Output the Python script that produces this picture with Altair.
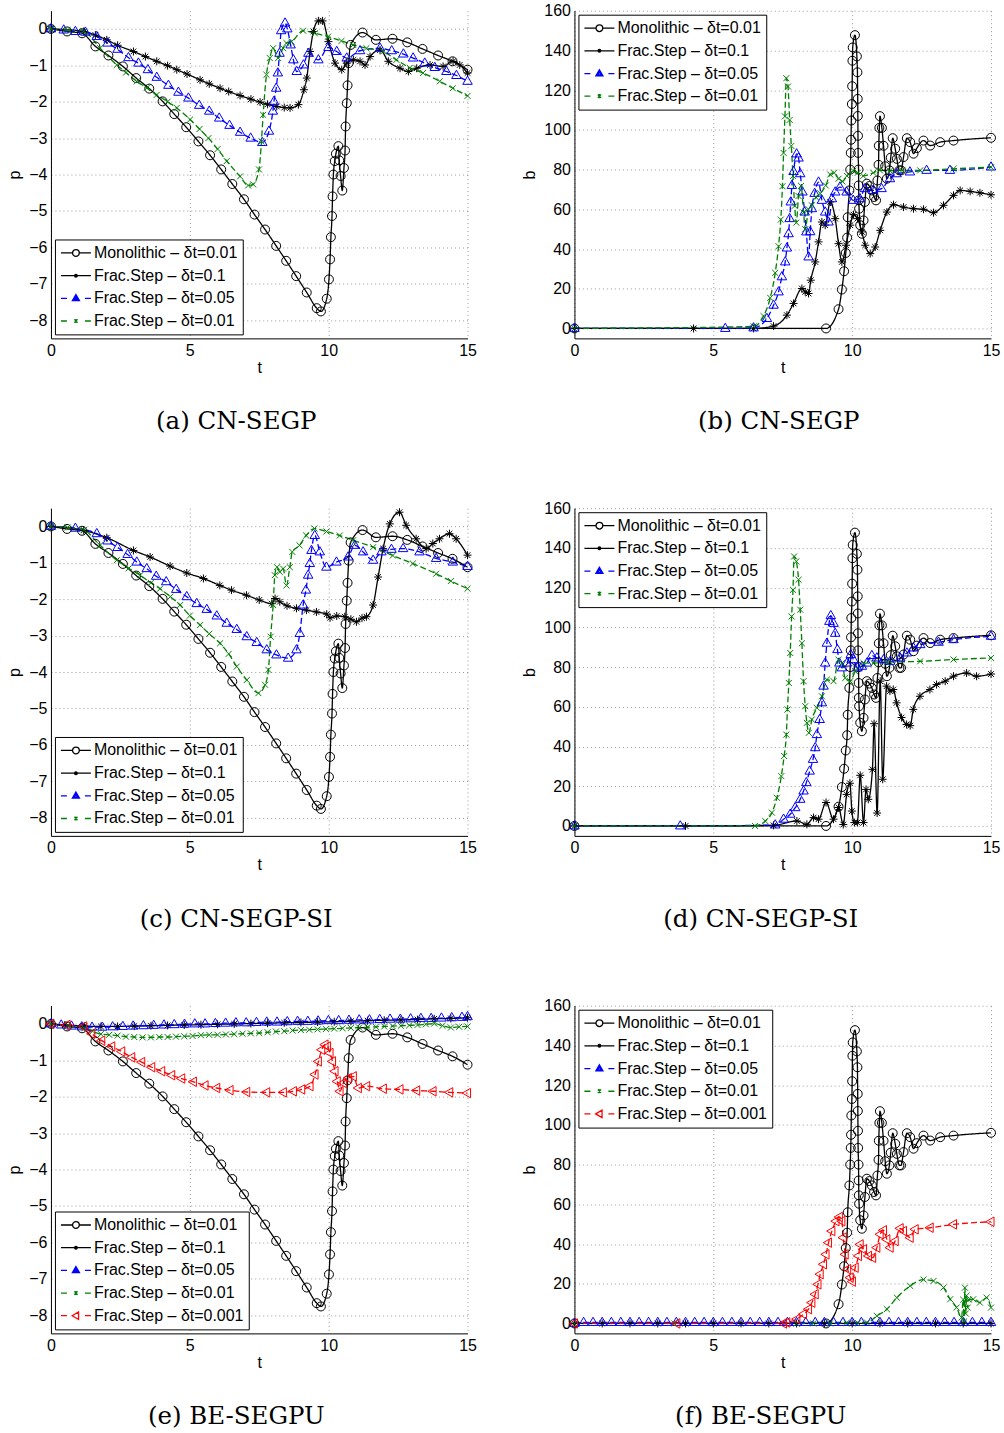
import altair as alt
import pandas as pd

NAMES = ["Monolithic – δt=0.01", "Frac.Step – δt=0.1", "Frac.Step – δt=0.05",
         "Frac.Step – δt=0.01", "Frac.Step – δt=0.001"]
COLORS = ["#000000", "#000000", "#0000ff", "#008000", "#ff0000"]
DASHES = [[1, 0], [1, 0], [6, 3], [6, 3], [6, 3]]
MARKS = [
    "M0.9,0A0.9,0.9,0,1,1,-0.9,0A0.9,0.9,0,1,1,0.9,0Z",
    "M-0.8,0L0.8,0M0,-0.8L0,0.8M-0.57,-0.57L0.57,0.57M-0.57,0.57L0.57,-0.57",
    "M0,-1.05L0.95,0.6L-0.95,0.6Z",
    "M-0.6,-0.6L0.6,0.6M-0.6,0.6L0.6,-0.6",
    "M-1.05,0L0.6,-0.95L0.6,0.95Z",
]
LEGSYM = [
    "M-1,0L0.55,0M1.45,0L3,0M1.45,0A0.45,0.45,0,1,1,0.55,0A0.45,0.45,0,1,1,1.45,0Z",
    "M-1,0L3,0M1.18,0A0.18,0.18,0,1,1,0.82,0A0.18,0.18,0,1,1,1.18,0Z",
    "M-1,0L-0.2,0M2.2,0L3,0M1,-0.5L1.47,0.3L0.53,0.3ZM1,-0.2L1.22,0.18L0.78,0.18Z",
    "M-1,0L-0.2,0M2.2,0L3,0M0.78,-0.22L1.22,0.22M0.78,0.22L1.22,-0.22M1,-0.28L1,0.28",
    "M-1,0L-0.2,0M2.2,0L3,0M0.5,0L1.35,-0.5L1.35,0.5Z",
]

# ---------- Monolithic (same in all panels) ----------
MONO_P_T = [0, 0.58, 1.12, 1.6, 2.07, 2.59, 3.07, 3.54, 4.02, 4.44, 4.87, 5.31, 5.73, 6.13, 6.53,
            6.95, 7.33, 7.71, 8.11, 8.47, 8.83, 9.21, 9.57, 9.72, 9.93, 10.01, 10.05, 10.08, 10.12,
            10.14, 10.17, 10.22, 10.26, 10.35, 10.38, 10.43, 10.49, 10.55, 10.59, 10.61, 10.65,
            10.68, 10.72, 10.79, 11.22, 11.70, 12.30, 12.83, 13.38, 13.94, 14.46, 15.0]
MONO_P_V = [0, -0.07, -0.12, -0.48, -0.73, -1.03, -1.35, -1.64, -1.99, -2.34, -2.70, -3.09, -3.47,
            -3.86, -4.26, -4.68, -5.10, -5.51, -5.96, -6.37, -6.79, -7.24, -7.67, -7.76, -7.41,
            -6.88, -6.33, -5.72, -5.14, -4.60, -4.0, -3.63, -3.43, -3.22, -3.61, -4.04, -4.44,
            -3.82, -3.34, -2.68, -2.04, -1.55, -0.94, -0.44, -0.10, -0.30, -0.27, -0.37, -0.55,
            -0.73, -0.89, -1.12]
MONO_B_T = [0, 9.06, 9.51, 9.63, 9.71, 9.77, 9.82, 9.84, 9.90, 9.93, 9.95, 9.96, 9.97, 9.99, 10.0,
            10.01, 10.02, 10.10, 10.17, 10.19, 10.20, 10.205, 10.21, 10.215, 10.23, 10.235, 10.24,
            10.25, 10.29, 10.35, 10.41, 10.46, 10.53, 10.62, 10.71, 10.79, 10.86, 10.91, 10.95,
            10.96, 10.98, 11.00, 11.07, 11.13, 11.19, 11.25, 11.34, 11.39, 11.46, 11.55, 11.61,
            11.70, 11.76, 11.85, 11.97, 12.09, 12.21, 12.33, 12.57, 12.81, 13.17, 13.65, 15.0]
MONO_B_V = [0, 0, 9.7, 19.6, 28.8, 38, 45.7, 56, 69.5, 80, 88.4, 95, 104.7, 113, 122, 134.8,
            141.5, 147.7, 137, 129, 115.6, 107, 97, 88.4, 80, 72, 64.5, 60.3, 52, 47.7, 54.4, 63.7,
            72.9, 71.7, 69.5, 66.2, 64.5, 74.5, 82.4, 92, 101, 106.9, 101, 92, 81.7, 75.4, 79.6,
            86, 95.8, 90.5, 85.4, 79.6, 79.6, 86.3, 95.8, 93.8, 88, 90.8, 94.6, 92.1, 93.8, 94.6, 96]

# ---------- (a) CN-SEGP, p ----------
A_FS1_T = [0, 1.18, 1.6, 2.01, 2.4, 2.97, 3.4, 3.81, 4.2, 4.53, 4.9, 5.37, 5.7, 6.09, 6.4, 6.81,
           7.2, 7.53, 7.8, 8.13, 8.4, 8.61, 8.91, 9.11, 9.21, 9.33, 9.45, 9.63, 9.78, 9.99, 10.23,
           10.47, 10.65, 10.89, 11.13, 11.31, 11.49, 11.85, 12.15, 12.57, 12.87, 13.17, 13.65,
           14.12, 14.48, 14.72, 15.0]
A_FS1_V = [0, -0.07, -0.17, -0.30, -0.45, -0.62, -0.76, -0.89, -1.01, -1.12, -1.24, -1.40, -1.51,
           -1.63, -1.72, -1.83, -1.93, -2.01, -2.07, -2.13, -2.16, -2.17, -2.08, -1.67, -1.35,
           -0.62, -0.07, 0.22, 0.22, -0.35, -0.94, -1.12, -0.94, -0.85, -0.89, -0.99, -0.76,
           -0.58, -0.89, -1.08, -1.17, -1.08, -0.99, -1.03, -0.89, -0.99, -1.21]
A_FS05_T = [0, 0.46, 0.88, 1.24, 1.65, 2.04, 2.4, 2.79, 3.15, 3.49, 3.81, 4.23, 4.59, 4.95, 5.34,
            5.70, 6.06, 6.43, 6.81, 7.19, 7.61, 7.85, 7.99, 8.03, 8.11, 8.17, 8.23, 8.29, 8.43,
            8.51, 8.63, 8.73, 8.85, 9.09, 9.27, 9.63, 9.99, 10.29, 10.65, 11.13, 11.85, 12.27,
            12.69, 13.04, 13.46, 13.82, 14.24, 14.60, 15.0]
A_FS05_V = [0, -0.03, -0.07, -0.09, -0.21, -0.39, -0.56, -0.79, -0.94, -1.12, -1.33, -1.55, -1.74,
            -1.90, -2.10, -2.26, -2.45, -2.65, -2.84, -3.0, -3.12, -2.81, -2.26, -1.99, -1.63,
            -1.21, -0.67, -0.05, 0.16, 0.0, -0.44, -0.85, -1.17, -0.99, -0.67, -0.85, -0.51,
            -0.62, -0.80, -0.60, -0.53, -0.60, -0.69, -0.80, -0.94, -1.06, -1.17, -1.28, -1.44]
A_FS01_T = [0, 0.6, 1.18, 1.77, 2.37, 2.7, 3.09, 3.45, 3.81, 4.2, 4.53, 5.01, 5.35, 5.67, 6.0,
            6.33, 6.81, 7.1, 7.28, 7.49, 7.58, 7.64, 7.76, 7.88, 8.0, 8.18, 8.36, 8.48, 8.66, 9.08,
            9.5, 9.98, 10.46, 10.88, 11.36, 11.96, 12.44, 12.92, 13.4, 14.0, 14.47, 15.0]
A_FS01_V = [0, -0.03, -0.07, -0.53, -0.99, -1.2, -1.44, -1.62, -1.81, -2.0, -2.17, -2.49, -2.75,
            -3.0, -3.3, -3.63, -4.05, -4.3, -4.27, -3.86, -3.09, -2.36, -1.26, -0.8, -0.53, -0.8,
            -0.53, -0.39, -0.35, -0.05, -0.12, -0.21, -0.33, -0.44, -0.53, -0.62, -0.85, -1.07,
            -1.21, -1.44, -1.63, -1.84]

# ---------- (b) CN-SEGP, b ----------
B_FS1_T = [0, 4.29, 6.45, 7.17, 7.65, 7.89, 8.19, 8.31, 8.43, 8.51, 8.67, 8.79, 8.91, 9.03, 9.21,
           9.39, 9.51, 9.63, 9.78, 9.93, 10.05, 10.19, 10.35, 10.47, 10.65, 10.83, 11.01, 11.25,
           11.49, 11.85, 12.21, 12.57, 12.93, 13.29, 13.65, 13.89, 14.25, 14.60, 15.0]
B_FS1_V = [0, 0, 0, 1.2, 6.7, 12.6, 20.1, 18.4, 17.6, 24.3, 33.5, 43.6, 53.6, 52, 63.7, 55.3, 42.7,
           33.5, 41.9, 52, 57.3, 55.3, 48.6, 41.9, 37.7, 41, 49.4, 58.6, 62.3, 61.1, 60.3, 60,
           58.3, 62, 67, 69.5, 69, 68.3, 67.3]
B_FS05_T = [0, 5.43, 6.45, 6.93, 7.17, 7.35, 7.47, 7.59, 7.65, 7.71, 7.75, 7.79, 7.83, 7.89, 8.0,
            8.07, 8.13, 8.21, 8.29, 8.35, 8.43, 8.49, 8.55, 8.65, 8.79, 8.91, 9.03, 9.15, 9.27,
            9.39, 9.56, 9.8, 10.04, 10.28, 10.46, 10.76, 11.06, 11.36, 11.60, 12.08, 12.68,
            13.52, 15.0]
B_FS05_V = [0, 0, 0.3, 5, 11.7, 18.4, 26, 33.5, 40.5, 47.7, 55.3, 63.7, 72, 79, 87.9, 85.8, 77.9,
            68.7, 58.6, 48.6, 36, 48.7, 60.3, 68, 73.7, 64.5, 58.6, 53.6, 65.3, 68.7, 71.2, 68.7,
            64.5, 65.3, 70.4, 69.5, 70.4, 75.4, 77.9, 78.8, 79.6, 79.6, 81.3]
B_FS01_T = [0, 6.45, 6.81, 7.05, 7.23, 7.35, 7.43, 7.49, 7.53, 7.58, 7.63, 7.69, 7.75, 7.81, 7.87,
            7.93, 7.99, 8.07, 8.16, 8.25, 8.31, 8.43, 8.55, 8.7, 8.85, 9.05, 9.21, 9.35, 9.51, 9.65,
            9.81, 10.04, 10.2, 10.4, 10.76, 11.0, 11.36, 11.8, 12.45, 13.65, 15.0]
B_FS01_V = [0, 1, 6.2, 15.4, 28, 41.4, 54.8, 71.6, 88.4, 106.8, 126, 121.8, 105, 91.9, 76.8, 61.7,
            53.3, 66.7, 71.8, 58.4, 50, 60, 62, 66, 68, 72, 77.5, 78.4, 75.4, 74, 76.8, 79.4, 78.4,
            76.8, 78.4, 79.6, 79.4, 79.6, 79.6, 80.4, 81.2]

# ---------- (c) CN-SEGP-SI, p ----------
C_FS1_T = [0, 1.18, 2.01, 2.97, 3.57, 4.29, 4.89, 5.49, 6.08, 6.5, 7.04, 7.5, 7.95, 8.07, 8.24,
           8.5, 8.84, 9.2, 9.56, 9.93, 10.05, 10.29, 10.58, 10.8, 11.0, 11.2, 11.36, 11.6, 11.78,
           11.96, 12.2, 12.55, 12.79, 13.15, 13.51, 13.75, 13.99, 14.35, 14.59, 15.0]
C_FS1_V = [0, -0.11, -0.31, -0.66, -0.84, -1.09, -1.28, -1.43, -1.62, -1.75, -1.89, -2.02, -2.12,
           -1.98, -2.07, -2.18, -2.25, -2.30, -2.35, -2.41, -2.51, -2.46, -2.48, -2.55, -2.62,
           -2.52, -2.48, -2.16, -1.39, -0.61, 0.07, 0.39, 0.03, -0.34, -0.61, -0.47, -0.34,
           -0.20, -0.34, -0.79]
C_FS05_T = [0, 0.88, 1.65, 2.04, 2.4, 2.76, 3.09, 3.45, 3.79, 4.15, 4.51, 4.89, 5.25, 5.61, 5.97,
            6.33, 6.69, 7.05, 7.41, 7.77, 8.12, 8.54, 8.84, 8.96, 9.08, 9.18, 9.26, 9.32, 9.38,
            9.5, 9.68, 9.92, 10.28, 10.7, 10.94, 11.24, 11.6, 11.9, 12.26, 12.68, 13.27, 13.87,
            14.47, 15.0]
C_FS05_V = [0, -0.05, -0.2, -0.4, -0.58, -0.77, -0.98, -1.16, -1.37, -1.52, -1.73, -1.93, -2.12,
            -2.28, -2.46, -2.66, -2.83, -3.03, -3.19, -3.39, -3.53, -3.62, -3.39, -2.94, -2.16,
            -1.75, -1.34, -1.02, -0.66, -0.25, -0.70, -1.12, -0.98, -0.84, -0.52, -0.70, -0.93,
            -0.70, -0.63, -0.61, -0.70, -0.88, -0.98, -1.1]
C_FS01_T = [0, 0.6, 1.18, 1.77, 2.37, 2.8, 3.21, 3.6, 3.93, 4.3, 4.65, 5.0, 5.37, 5.7, 6.09, 6.4,
            6.69, 7.05, 7.47, 7.71, 7.83, 7.91, 8.0, 8.06, 8.14, 8.24, 8.36, 8.48, 8.6, 8.69, 8.95,
            9.19, 9.49, 9.92, 10.4, 10.88, 11.6, 12.31, 13.03, 13.87, 14.4, 15.0]
C_FS01_V = [0, -0.03, -0.1, -0.52, -0.93, -1.15, -1.34, -1.55, -1.71, -1.93, -2.16, -2.45, -2.71,
            -2.95, -3.21, -3.5, -3.85, -4.22, -4.58, -4.35, -3.94, -3.03, -2.16, -1.34, -1.12,
            -1.25, -1.16, -1.62, -1.12, -0.70, -0.52, -0.25, -0.06, -0.14, -0.25, -0.38, -0.57,
            -0.80, -1.02, -1.30, -1.5, -1.71]

# ---------- (d) CN-SEGP-SI, b ----------
D_FS1_T = [0, 4.0, 7.17, 8.01, 8.37, 8.61, 8.79, 9.06, 9.33, 9.51, 9.68, 9.8, 9.92, 9.99, 10.08,
           10.19, 10.29, 10.41, 10.5, 10.58, 10.73, 10.79, 10.9, 11.01, 11.1, 11.24, 11.36, 11.48,
           11.6, 11.78, 11.96, 12.09, 12.2, 12.44, 12.8, 13.04, 13.35, 13.65, 14.12, 14.48, 15.0]
D_FS1_V = [0, 0, 0.3, 2.5, 0.8, 4.2, 3.4, 11.8, 3.4, 9.3, 0.7, 15.9, 21.5, 7.5, 1.7, 1.7, 25.5, 1.7,
           18.4, 13.4, 28.5, 51.5, 6.5, 72.9, 23.5, 70.4, 67.9, 68.7, 62, 54.6, 51.1, 50.5, 58.7,
           65.3, 68.7, 71.2, 72.9, 75.4, 77, 75.4, 76.5]
D_FS05_T = [0, 3.81, 7.23, 7.53, 7.77, 7.95, 8.13, 8.25, 8.35, 8.47, 8.59, 8.67, 8.73, 8.83, 8.91,
            8.97, 9.03, 9.09, 9.18, 9.23, 9.33, 9.39, 9.47, 9.54, 9.63, 9.81, 9.95, 10.05, 10.19,
            10.35, 10.53, 10.71, 10.89, 11.13, 11.37, 11.73, 11.97, 12.21, 12.45, 13.11, 13.65, 15.0]
D_FS05_V = [0, 0, 0.5, 3.4, 5.9, 9.2, 13.4, 17.6, 21.8, 27.6, 33.5, 39.4, 46, 53.6, 62, 70.4, 82,
            92, 103, 105.9, 102, 97, 88.8, 82, 79.6, 82, 86.3, 83.7, 79.6, 80.4, 82, 85.8, 84.6,
            83.7, 82.9, 84.6, 87.1, 89.6, 91.3, 92.5, 93.8, 95.5]
D_FS01_T = [0, 6.5, 6.87, 7.11, 7.29, 7.45, 7.55, 7.63, 7.67, 7.72, 7.77, 7.82, 7.87, 7.91, 7.99,
            8.07, 8.13, 8.19, 8.25, 8.31, 8.37, 8.44, 8.55, 8.73, 8.91, 9.09, 9.33, 9.51, 9.63,
            9.75, 9.93, 10.11, 10.41, 10.77, 11.25, 12.45, 13.65, 15.0]
D_FS01_V = [0, 0, 2.5, 6.7, 14.2, 25.1, 35.2, 46, 58.6, 72, 87.1, 105.5, 118.9, 135.7, 133.2, 124,
            108.9, 92, 72.9, 60.3, 51.9, 46.9, 53.6, 59.5, 65.3, 73.7, 72.9, 83.7, 82, 74.5, 72.9,
            77.9, 82, 82, 82.4, 82.9, 83.8, 84.6]

# ---------- (e) BE-SEGPU, p ----------
E_FS1_T = [0, 0.5, 1.2, 1.8, 2.4, 3.0, 3.6, 4.2, 4.8, 5.4, 6.0, 6.6, 7.2, 7.8, 8.4, 9.0, 9.6, 10.2,
           10.8, 11.4, 12.0, 12.6, 13.2, 13.8, 14.4, 15.0]
E_FS1_V = [0, -0.03, -0.06, -0.07, -0.07, -0.06, -0.05, -0.04, -0.03, -0.02, -0.01, 0.0, 0.01,
           0.02, 0.03, 0.04, 0.05, 0.06, 0.07, 0.09, 0.10, 0.11, 0.12, 0.14, 0.15, 0.17]
E_FS05_T = [0, 0.37, 0.74, 1.11, 1.48, 1.85, 2.22, 2.59, 2.96, 3.33, 3.7, 4.07, 4.44, 4.81, 5.18,
            5.55, 5.92, 6.29, 6.66, 7.03, 7.4, 7.77, 8.14, 8.51, 8.88, 9.25, 9.62, 9.99, 10.36,
            10.73, 11.1, 11.47, 11.84, 12.21, 12.58, 12.95, 13.32, 13.69, 14.06, 14.43, 14.8, 15.0]
E_FS05_V = [0, -0.03, -0.06, -0.08, -0.09, -0.09, -0.08, -0.07, -0.06, -0.05, -0.04, -0.03, -0.02,
            -0.01, 0.0, 0.0, 0.01, 0.02, 0.03, 0.03, 0.04, 0.05, 0.05, 0.06, 0.07, 0.07, 0.08,
            0.09, 0.09, 0.10, 0.11, 0.11, 0.12, 0.13, 0.13, 0.14, 0.15, 0.15, 0.16, 0.17, 0.18, 0.2]
E_FS01_T = [0, 0.6, 1.2, 1.5, 1.8, 2.1, 2.4, 2.7, 3.0, 3.3, 3.6, 3.9, 4.2, 4.5, 4.8, 5.1, 5.4, 5.7,
            6.0, 6.3, 6.6, 6.9, 7.2, 7.5, 7.8, 8.1, 8.4, 8.7, 9.0, 9.3, 9.6, 9.9, 10.2, 10.5, 10.8,
            11.1, 11.4, 11.7, 12.0, 12.3, 12.6, 12.9, 13.2, 13.5, 13.8, 14.1, 14.4, 14.7, 15.0]
E_FS01_V = [0, -0.05, -0.12, -0.2, -0.28, -0.3, -0.32, -0.35, -0.36, -0.37, -0.37, -0.36, -0.36,
            -0.35, -0.34, -0.33, -0.31, -0.30, -0.30, -0.29, -0.28, -0.27, -0.26, -0.25, -0.23,
            -0.21, -0.20, -0.18, -0.17, -0.16, -0.15, -0.14, -0.13, -0.12, -0.11, -0.10, -0.09,
            -0.08, -0.07, -0.06, -0.05, -0.04, -0.03, -0.01, 0.01, -0.05, -0.10, -0.08, -0.07]
E_FS001_T = [0, 0.58, 1.18, 1.47, 1.83, 2.19, 2.55, 2.91, 3.27, 3.63, 3.99, 4.35, 4.71, 5.13, 5.55,
             5.97, 6.45, 7.05, 7.77, 8.37, 8.73, 9.03, 9.33, 9.51, 9.63, 9.75, 9.87, 9.96, 10.05,
             10.14, 10.23, 10.31, 10.41, 10.53, 10.71, 10.89, 11.07, 11.37, 11.97, 12.57, 13.17,
             13.76, 14.36, 15.0]
E_FS001_V = [0, -0.03, -0.07, -0.27, -0.46, -0.62, -0.76, -0.92, -1.05, -1.19, -1.30, -1.41, -1.50,
             -1.59, -1.69, -1.76, -1.82, -1.87, -1.88, -1.88, -1.85, -1.80, -1.71, -1.39, -1.03,
             -0.71, -0.57, -0.62, -0.80, -1.03, -1.30, -1.58, -1.85, -1.62, -1.49, -1.44, -1.76,
             -1.71, -1.78, -1.80, -1.83, -1.85, -1.88, -1.90]

# ---------- (f) BE-SEGPU, b ----------
F_FS1_T = [0, 1.0, 2.0, 3.0, 4.0, 5.0, 6.0, 7.0, 8.0, 9.0, 10.0, 11.0, 12.0, 13.0, 14.0, 15.0]
F_FS1_V = [0, 0, 0, 0, 0, 0, 0, 0, 0, 0, 0, 0, 0, 0, 0, 0]
F_FS05_T = [0, 0.33, 0.67, 1.0, 1.33, 1.67, 2.0, 2.33, 2.67, 3.0, 3.33, 3.67, 4.0, 4.33, 4.67, 5.0,
            5.33, 5.67, 6.0, 6.33, 6.67, 7.0, 7.33, 7.67, 8.0, 8.33, 8.67, 9.0, 9.33, 9.67, 10.0,
            10.33, 10.67, 11.0, 11.33, 11.67, 12.0, 12.33, 12.67, 13.0, 13.33, 13.67, 14.0, 14.33,
            14.67, 15.0]
F_FS05_V = [0, 0.5, 0.5, 0.5, 0.5, 0.5, 0.5, 0.5, 0.5, 0.5, 0.5, 0.5, 0.5, 0.5, 0.5, 0.5, 0.5, 0.5,
            0.5, 0.5, 0.5, 0.5, 0.5, 0.5, 0.5, 0.5, 0.5, 0.5, 0.5, 0.5, 0.5, 0.5, 0.5, 0.5, 0.5,
            0.5, 0.5, 0.5, 0.5, 0.5, 0.5, 0.5, 0.5, 0.5, 0.5, 0.5]
F_FS01_T = [0, 3.6, 8.0, 8.6, 9.2, 9.8, 10.2, 10.53, 10.89, 11.25, 11.61, 12.09, 12.57, 12.93, 13.29,
            13.53, 13.76, 13.94, 14.0, 14.03, 14.06, 14.09, 14.12, 14.16, 14.2, 14.36, 14.6, 14.84,
            15.0]
F_FS01_V = [0, 0, 0, 0, 0, 0.3, 0.3, 0.5, 3.8, 7.2, 13, 18.9, 22.1, 21.4, 18.1, 12.2, 8, 3, 12, 1,
            18, 5, 14, 8, 12, 12.2, 10.5, 13, 8]
F_FS001_T = [0, 3.69, 7.53, 7.65, 8.01, 8.25, 8.43, 8.55, 8.67, 8.77, 8.85, 8.97, 9.06, 9.15, 9.27,
             9.42, 9.54, 9.63, 9.68, 9.75, 9.84, 9.93, 10.01, 10.11, 10.23, 10.29, 10.41, 10.59,
             10.74, 10.89, 11.01, 11.13, 11.25, 11.37, 11.55, 11.73, 11.85, 12.09, 12.27, 12.81,
             13.65, 15.0]
F_FS001_V = [0, 0, 0, 0.5, 2.2, 4.7, 7.2, 10.5, 14.7, 19.7, 24.8, 29.8, 34.8, 40.7, 46.5, 51.5,
             53.6, 51.5, 43.2, 34.8, 27.3, 23.1, 21.1, 28.1, 34, 39.8, 37.3, 34, 33.1, 38.2, 44.9,
             46.9, 42.3, 38.2, 41.5, 47.9, 46.5, 43.2, 47.4, 48.2, 49.9, 51.2]

P_TICKS = [-8, -7, -6, -5, -4, -3, -2, -1, 0]
B_TICKS = [0, 20, 40, 60, 80, 100, 120, 140, 160]
T_TICKS = [0, 5, 10, 15]

W, H = 417, 328


def panel(series, ytitle, ydom, yticks, orient, caption, dx):
    n = len(series)
    rows = []
    for i, (ts, vs) in enumerate(series):
        for k, (a, b) in enumerate(zip(ts, vs)):
            rows.append({"t": a, "v": b, "s": NAMES[i], "k": k})
    df = pd.DataFrame(rows)
    dom = NAMES[:n]
    xenc = alt.X("t:Q", scale=alt.Scale(domain=[0, 15], nice=False),
                 axis=alt.Axis(values=T_TICKS, title="t", format="d"))
    yenc = alt.Y("v:Q", scale=alt.Scale(domain=ydom, nice=False, zero=False),
                 axis=alt.Axis(values=yticks, title=ytitle, format="d"))
    base = alt.Chart(df)
    lines = base.mark_line(strokeWidth=1.3, interpolate="monotone").encode(
        x=xenc, y=yenc,
        color=alt.Color("s:N", scale=alt.Scale(domain=dom, range=COLORS[:n]), legend=None),
        strokeDash=alt.StrokeDash("s:N", scale=alt.Scale(domain=dom, range=DASHES[:n]), legend=None),
        order="k:Q",
    )
    pts = base.mark_point(filled=False, size=100, strokeWidth=1, opacity=1).encode(
        x=xenc, y=yenc,
        color=alt.Color("s:N", scale=alt.Scale(domain=dom, range=COLORS[:n]), legend=None),
        shape=alt.Shape("s:N", scale=alt.Scale(domain=dom, range=MARKS[:n]), legend=None),
    )
    lg = dict(title=None, orient=orient, offset=4, padding=5, strokeColor="black",
              fillColor="white", labelFont="Liberation Sans", labelFontSize=16,
              labelColor="black", labelOffset=17, labelLimit=400, rowPadding=5.7,
              symbolSize=225, symbolStrokeWidth=1.3, symbolOpacity=1, cornerRadius=0)
    leg = base.transform_filter("datum.t < -100").mark_point(
        filled=False, size=225, strokeWidth=1.3, opacity=1).encode(
        color=alt.Color("s:N", scale=alt.Scale(domain=dom, range=COLORS[:n]),
                        legend=alt.Legend(**lg)),
        shape=alt.Shape("s:N", scale=alt.Scale(domain=dom, range=LEGSYM[:n]),
                        legend=alt.Legend(**lg)),
    )
    return alt.layer(lines, pts, leg).resolve_scale(
        color="independent", shape="independent", strokeDash="independent"
    ).properties(
        width=W, height=H,
        title=alt.TitleParams(text=caption, orient="bottom", anchor="middle", frame="group",
                              font="DejaVu Serif", fontSize=24.5, fontWeight="normal",
                              color="black", offset=35, dx=dx),
    )


pa = panel([(MONO_P_T, MONO_P_V), (A_FS1_T, A_FS1_V), (A_FS05_T, A_FS05_V), (A_FS01_T, A_FS01_V)],
           "p", [-8.5, 0.5], P_TICKS, "bottom-left", "(a)  CN-SEGP", -23)
pb = panel([(MONO_B_T, MONO_B_V), (B_FS1_T, B_FS1_V), (B_FS05_T, B_FS05_V), (B_FS01_T, B_FS01_V)],
           "b", [-5, 160], B_TICKS, "top-left", "(b)  CN-SEGP", -4)
pc = panel([(MONO_P_T, MONO_P_V), (C_FS1_T, C_FS1_V), (C_FS05_T, C_FS05_V), (C_FS01_T, C_FS01_V)],
           "p", [-8.5, 0.5], P_TICKS, "bottom-left", "(c)  CN-SEGP-SI", -23)
pd_ = panel([(MONO_B_T, MONO_B_V), (D_FS1_T, D_FS1_V), (D_FS05_T, D_FS05_V), (D_FS01_T, D_FS01_V)],
            "b", [-5, 160], B_TICKS, "top-left", "(d)  CN-SEGP-SI", -22)
pe = panel([(MONO_P_T, MONO_P_V), (E_FS1_T, E_FS1_V), (E_FS05_T, E_FS05_V), (E_FS01_T, E_FS01_V),
            (E_FS001_T, E_FS001_V)],
           "p", [-8.5, 0.5], P_TICKS, "bottom-left", "(e)  BE-SEGPU", -23)
pf = panel([(MONO_B_T, MONO_B_V), (F_FS1_T, F_FS1_V), (F_FS05_T, F_FS05_V), (F_FS01_T, F_FS01_V),
            (F_FS001_T, F_FS001_V)],
           "b", [-5, 160], B_TICKS, "top-left", "(f)  BE-SEGPU", -22)

HS = 45
chart = alt.vconcat(
    alt.hconcat(pa, pb, spacing=HS),
    alt.hconcat(pc, pd_, spacing=HS),
    alt.hconcat(pe, pf, spacing=HS),
    spacing=66,
).properties(
    padding={"left": 6, "top": 2, "right": 4, "bottom": 4}
).configure_view(stroke=None).configure_axis(
    domainColor="black", domainWidth=1, grid=True, gridColor="#9a9a9a", gridDash=[1, 3],
    gridWidth=1, ticks=False, labelFont="Liberation Sans", labelFontSize=16, labelColor="black",
    labelPadding=4, labelFlush=False, titleFont="Liberation Sans", titleFontSize=16,
    titleFontWeight="normal", titleColor="black",
).configure_axisX(titlePadding=1).configure_axisY(titlePadding=6)

chart.save("out.html", embed_options={"renderer": "svg", "actions": False})
